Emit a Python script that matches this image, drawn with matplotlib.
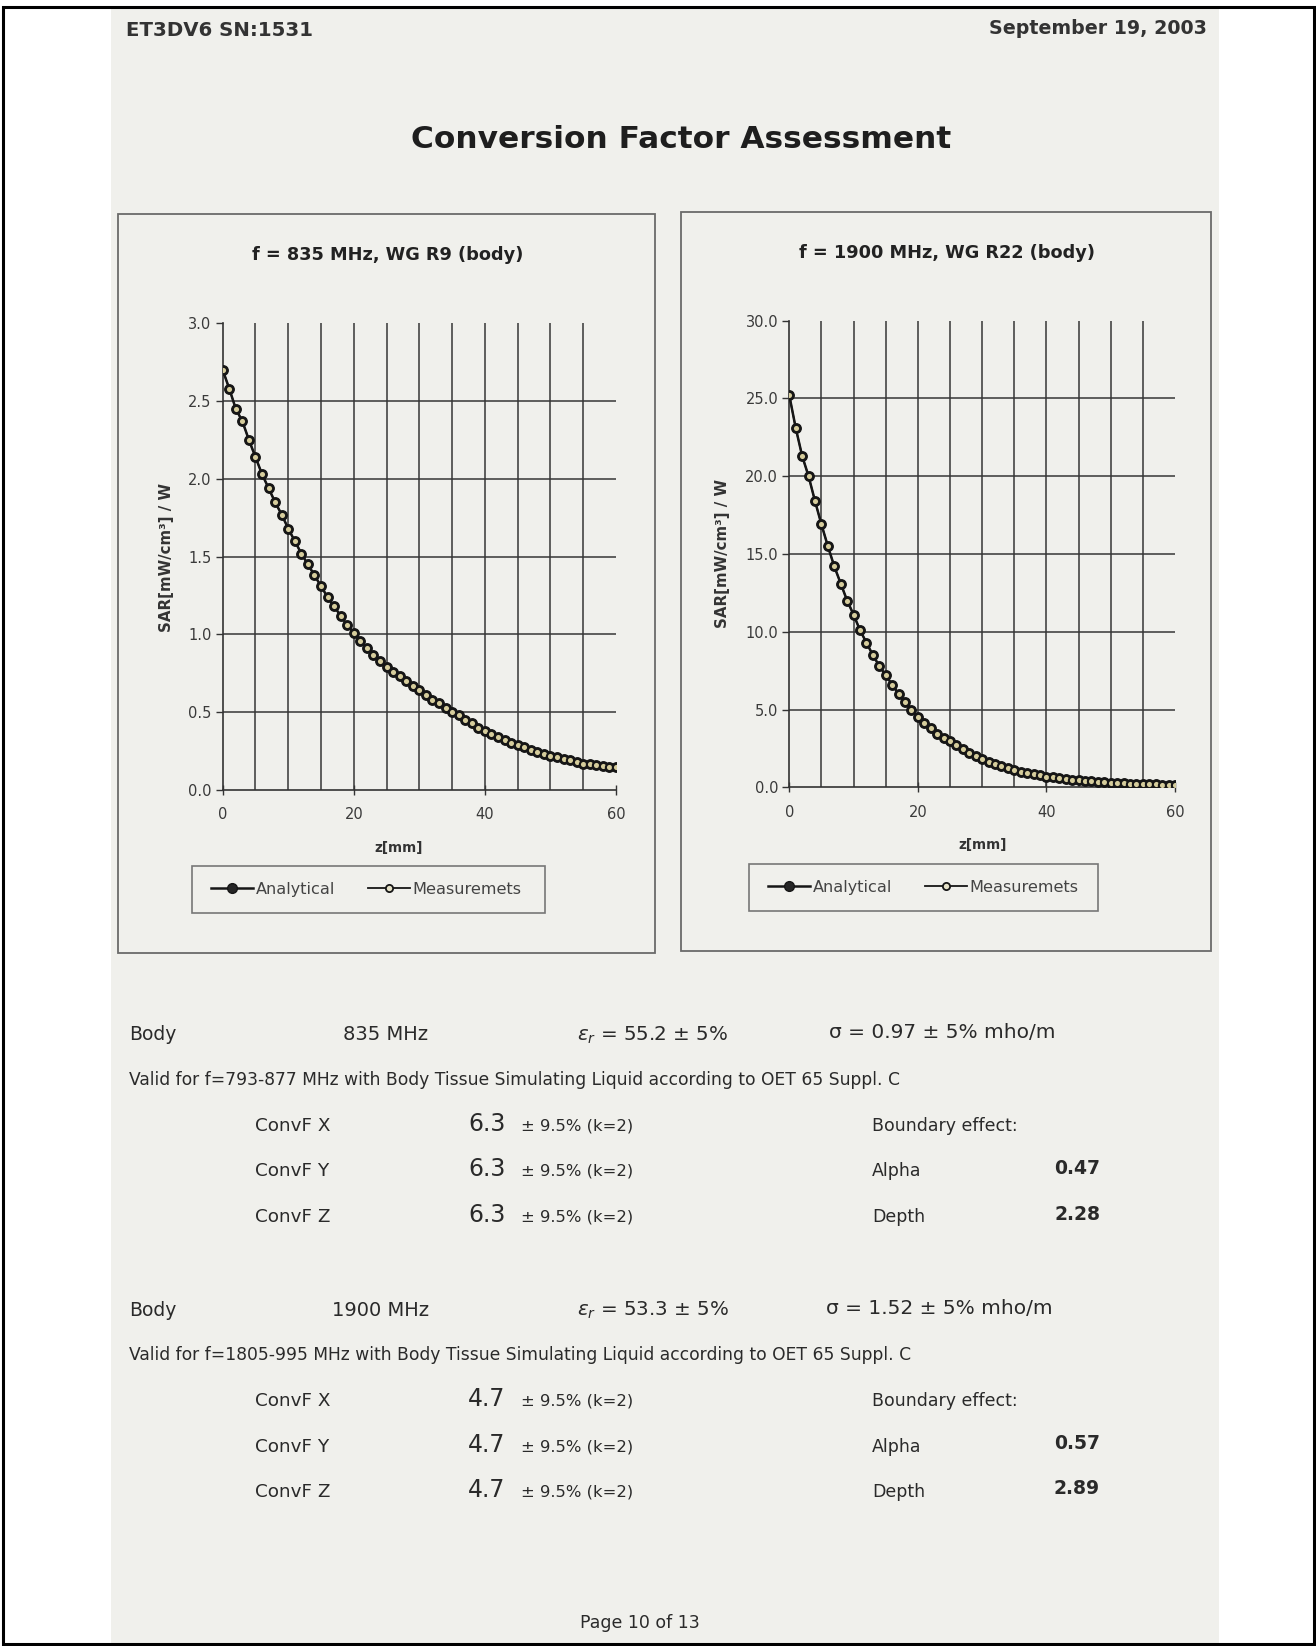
import matplotlib
matplotlib.use("Agg")
import matplotlib.pyplot as plt
from matplotlib.patches import Rectangle
from matplotlib.lines import Line2D

# ---------------- data ----------------
z_mm = list(range(0, 61))

sar_835 = [2.70, 2.58, 2.45, 2.37, 2.25, 2.14, 2.03, 1.94, 1.85, 1.77,
           1.68, 1.60, 1.52, 1.45, 1.38, 1.31, 1.24, 1.18, 1.12, 1.06,
           1.01, 0.96, 0.91, 0.87, 0.83, 0.79, 0.76, 0.73, 0.70, 0.67,
           0.64, 0.61, 0.58, 0.56, 0.53, 0.50, 0.48, 0.45, 0.43, 0.40,
           0.38, 0.36, 0.34, 0.32, 0.305, 0.29, 0.275, 0.26, 0.245, 0.23,
           0.22, 0.21, 0.20, 0.19, 0.18, 0.17, 0.165, 0.16, 0.155, 0.15,
           0.146]
meas_835 = list(sar_835)

sar_1900 = [25.2, 23.1, 21.3, 20.0, 18.4, 16.9, 15.5, 14.2, 13.1, 12.0,
            11.1, 10.1, 9.3, 8.5, 7.8, 7.2, 6.6, 6.0, 5.5, 5.0,
            4.55, 4.15, 3.8, 3.45, 3.2, 2.95, 2.7, 2.45, 2.2, 2.0,
            1.8, 1.63, 1.48, 1.34, 1.22, 1.11, 1.01, 0.92, 0.84, 0.76,
            0.69, 0.64, 0.58, 0.53, 0.48, 0.44, 0.41, 0.38, 0.35, 0.33,
            0.30, 0.28, 0.26, 0.24, 0.23, 0.21, 0.20, 0.19, 0.18, 0.175,
            0.17]
meas_1900 = list(sar_1900)

chart_titles = ["f = 835 MHz, WG R9 (body)", "f = 1900 MHz, WG R22 (body)"]
y_ticks_835 = [0.0, 0.5, 1.0, 1.5, 2.0, 2.5, 3.0]
y_ticks_1900 = [0.0, 5.0, 10.0, 15.0, 20.0, 25.0, 30.0]
x_ticks = [0, 20, 40, 60]
x_grid = [5, 10, 15, 20, 25, 30, 35, 40, 45, 50, 55]
legend_labels = ["Analytical", "Measuremets"]

# ---------------- figure ----------------
W, H = 1316, 1646
DPI = 100
fig = plt.figure(figsize=(W / DPI, H / DPI), dpi=DPI, facecolor="white")

PAGE = "#f0f0ec"
WIDE = ["DejaVu Sans"]
BODY = ["DejaVu Sans"]


def fx(px):
    return px / W


def fy(py):
    return 1 - py / H


def rect_px(x0, y0, x1, y1, **kw):
    r = Rectangle((fx(x0), fy(y1)), fx(x1) - fx(x0), fy(y0) - fy(y1),
                  transform=fig.transFigure, **kw)
    fig.add_artist(r)
    return r


# page background and outer border
rect_px(111, 8, 1219, 1646, facecolor=PAGE, edgecolor="none", zorder=0)
rect_px(3, 7, 1314, 1644, facecolor="none", edgecolor="black", lw=2.2, zorder=10)

# header
fig.text(fx(126), fy(30), "ET3DV6 SN:1531", family=WIDE, weight="bold",
         fontsize=14.2, color="#333333", va="center", ha="left")
fig.text(fx(1207), fy(29), "September 19, 2003", family=WIDE, weight="bold",
         fontsize=13.7, color="#333333", va="center", ha="right")
fig.text(fx(681), fy(139), "Conversion Factor Assessment", family=WIDE,
         weight="bold", fontsize=22.5, color="#1e1e1e", va="center", ha="center")

# chart boxes
boxes = [(118, 214, 655, 953), (681, 212, 1211, 951)]
for b in boxes:
    rect_px(*b, facecolor=PAGE, edgecolor="#6a6a6a", lw=1.3, zorder=1)

axes_px = [(222.7, 323.3, 616.0, 790.0), (789.3, 320.7, 1175.0, 787.3)]
title_pos = [(388, 255), (947, 253)]
ylabel_pos = [(166, 557), (723, 554)]
xlabel_pos = [(399, 848), (983, 845)]
legend_box = [(192, 866, 545, 913), (749, 864, 1098, 911)]
legend_left = [211, 768]

datasets = [(sar_835, meas_835, y_ticks_835, "{:.1f}"),
            (sar_1900, meas_1900, y_ticks_1900, "{:.1f}")]

for i, (apx, (ana, meas, yt, fmt)) in enumerate(zip(axes_px, datasets)):
    x0, y0, x1, y1 = apx
    ax = fig.add_axes([fx(x0), fy(y1), fx(x1) - fx(x0), fy(y0) - fy(y1)])
    ax.set_facecolor("none")
    ax.set_zorder(3)
    ax.plot(z_mm, ana, color="#161616", lw=1.8, marker="o", ms=6.8,
            mfc="#262626", mec="#161616", mew=1.0, zorder=4,
            label=legend_labels[0])
    ax.plot(z_mm, meas, color="#161616", lw=1.2, marker="o", ms=5.2,
            mfc="#d6cd9c", mec="#161616", mew=1.5, zorder=5,
            label=legend_labels[1])
    ax.set_xlim(0, 60)
    ax.set_ylim(yt[0], yt[-1])
    ax.set_xticks(x_ticks)
    ax.set_xticklabels([str(v) for v in x_ticks])
    ax.set_xticks(x_grid, minor=True)
    ax.xaxis.remove_overlapping_locs = False
    ax.set_yticks(yt)
    ax.set_yticklabels([fmt.format(v) for v in yt])
    for s in ["top", "right"]:
        ax.spines[s].set_visible(False)
    for s in ["left", "bottom"]:
        ax.spines[s].set_color("#333333")
        ax.spines[s].set_linewidth(1.2)
    ax.tick_params(axis="y", which="major", length=5, width=1.0,
                   color="#333333", labelsize=10.5, labelcolor="#3a3a3a", pad=3)
    ax.tick_params(axis="x", which="major", length=7, width=1.0,
                   direction="inout", color="#333333", labelsize=10.5,
                   labelcolor="#3a3a3a", pad=9)
    ax.tick_params(axis="x", which="minor", length=0)
    for lab in ax.get_xticklabels() + ax.get_yticklabels():
        lab.set_family(WIDE)
    ax.grid(True, axis="x", which="minor", color="#363636", lw=1.1)
    ax.grid(True, axis="y", which="major", color="#363636", lw=1.1)
    gl = ax.get_ygridlines()
    gl[0].set_visible(False)
    gl[-1].set_visible(False)
    ax.set_axisbelow(True)

    tx, ty = title_pos[i]
    fig.text(fx(tx), fy(ty), chart_titles[i], family=WIDE, weight="bold",
             fontsize=12.8, color="#222222", ha="center", va="center")
    lx, ly = ylabel_pos[i]
    fig.text(fx(lx), fy(ly), "SAR[mW/cm³] / W", family=WIDE, weight="bold",
             fontsize=10.8, color="#333333", ha="center", va="center",
             rotation=90)
    xx, xy = xlabel_pos[i]
    fig.text(fx(xx), fy(xy), "z[mm]", family=WIDE, weight="bold",
             fontsize=9.8, color="#333333", ha="center", va="center")

    # legend
    lb = legend_box[i]
    rect_px(*lb, facecolor=PAGE, edgecolor="#777777", lw=1.2, zorder=2)
    handles = [Line2D([], [], color="#161616", lw=1.8, marker="o", ms=7,
                      mfc="#262626", mec="#161616"),
               Line2D([], [], color="#161616", lw=1.3, marker="o", ms=5.2,
                      mfc="#e6e2c8", mec="#161616", mew=1.3)]
    leg = fig.legend(handles, legend_labels, ncol=2, frameon=False,
                     loc="center left", borderpad=0, borderaxespad=0,
                     bbox_to_anchor=(fx(legend_left[i]), fy((lb[1] + lb[3]) / 2)),
                     prop={"family": WIDE, "size": 11.6},
                     handlelength=2.6, columnspacing=2.0, handletextpad=0.2,
                     labelcolor="#444444")
    leg.set_zorder(6)

# ---------------- text section ----------------
def t(x, y, s, size=12, weight="normal", ha="left", fam=BODY, color="#2a2a2a"):
    fig.text(fx(x), fy(y), s, fontsize=size, weight=weight, ha=ha, va="center",
             family=fam, color=color)


blocks = [
    dict(y=1035, freq="835 MHz", fx_=343, eps=r"$\varepsilon_r$ = 55.2 ± 5%",
         sig="σ = 0.97 ± 5% mho/m", sigx=829,
         valid="Valid for f=793-877 MHz with Body Tissue Simulating Liquid according to OET 65 Suppl. C",
         conv="6.3", alpha="0.47", depth="2.28"),
    dict(y=1310, freq="1900 MHz", fx_=332, eps=r"$\varepsilon_r$ = 53.3 ± 5%",
         sig="σ = 1.52 ± 5% mho/m", sigx=826,
         valid="Valid for f=1805-995 MHz with Body Tissue Simulating Liquid according to OET 65 Suppl. C",
         conv="4.7", alpha="0.57", depth="2.89"),
]

for b in blocks:
    y = b["y"]
    t(129, y, "Body", size=13.5)
    t(b["fx_"], y, b["freq"], size=14)
    t(577, y, b["eps"], size=14.3)
    t(b["sigx"], y - 2, b["sig"], size=14.5)
    t(129, y + 45, b["valid"], size=12.3)
    rows = [("ConvF X", "Boundary effect:", None),
            ("ConvF Y", "Alpha", b["alpha"]),
            ("ConvF Z", "Depth", b["depth"])]
    for k, (lab, rlab, val) in enumerate(rows):
        yy = y + 91 + k * 45.5
        t(255, yy, lab, size=13.2)
        t(468, yy - 2, b["conv"], size=17)
        t(521, yy, "± 9.5% (k=2)", size=11.8)
        t(872, yy, rlab, size=12.5)
        if val is not None:
            t(1100, yy - 3, val, size=13.5, weight="bold", ha="right")

t(640, 1623, "Page 10 of 13", size=12.5, ha="center")

fig.savefig("out.png", dpi=DPI, facecolor="white")
